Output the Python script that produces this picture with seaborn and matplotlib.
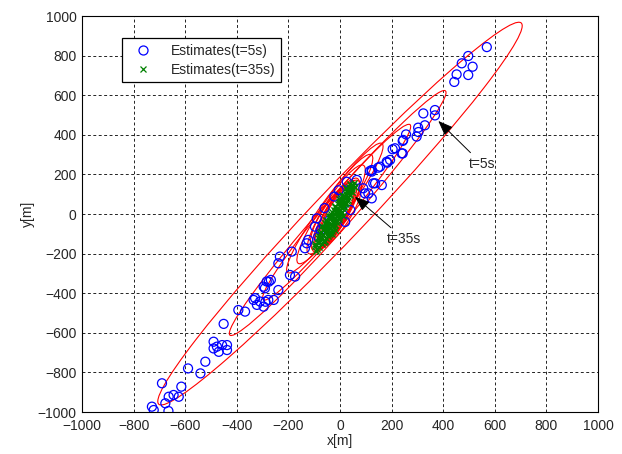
import numpy as np
import pandas as pd
import matplotlib
matplotlib.use("Agg")
import matplotlib.pyplot as plt
import seaborn as sns
from matplotlib.patches import Ellipse
from matplotlib.lines import Line2D

# ---------------- data ----------------
blue_x = [569, 497, 472, 514, 497, 452, 443, 368, 323, 368, 329, 303, 304, 256, 297, 243, 204, 243,
          183, 148, 116, 245, 213, 239, 194, 155, 181, 123, 136, 162, 110, 90, 123, 65, 26, 129, 97, 123,
          -22, 10, -60, -40, 40, -75, 20, -5,
          -90, -97, -123, -136, -187, -233, -239, -194, -174, -284, -268, -291, -239, -329, -310, -278,
          -394, -368, -129, -84, -296, -276, -289, -257, -335, -322, -296, -451, -490, -477, -457, -438,
          -490, -470, -438, -522, -589, -541, -615, -690, -664, -645, -625, -677, -729, -722, -665]
blue_y = [843, 798, 761, 744, 702, 705, 667, 525, 508, 498, 448, 436, 414, 402, 391, 369, 327, 306,
          259, 234, 217, 374, 332, 306, 273, 239, 264, 214, 155, 146, 104, 130, 79, 172, 163, 155, 104, 222,
          88, 60, 30, -30, 20, -80, -40, 120,
          -22, -64, -131, -173, -190, -215, -249, -308, -316, -341, -333, -375, -384, -425, -442, -434,
          -485, -493, -148, -115, -367, -342, -443, -434, -434, -459, -468, -555, -645, -670, -662, -662,
          -679, -696, -687, -746, -780, -805, -872, -855, -923, -914, -923, -956, -973, -990, -995]

green_x = [-88, -80, -95, -70, -85, -62, -78, -55, -72, -48, -65, -80, -40, -58, -30, -66, -45, -52,
           -25, -45, -18, -55, -35, -28, -60, -15, -30, -5, -42, -20, -35, -10, -2, -20, 5, -30, -10,
           -25, 0, 12, 8, -12, 15, -20, 2, -8, 18, 20, 0, 28, 10, -5, 22, 30, 15, 38, 22, 8, 40, 28, 48,
           35, 50, 40, 55, -50, -38, -22, -12, -3, 6, 14, 25, -68, -42, -32, -8, 4, -15, 30, -58, -20,
           -98, -86, -74, -60, -50, -36, -24, -44, -12, 0, 10, 18, 26, 36, 44, -70, -56, -34, -18, -2,
           -40, -6, 24, 32, -76, -64, -50, -28, -16, 6, 14, 34, 46, 58, -92, -83, -30, -52, 20, 2]
green_y = [-175, -168, -160, -150, -145, -140, -132, -122, -118, -112, -105, -110, -95, -90, -85, -82,
           -78, -70, -65, -62, -55, -52, -48, -40, -45, -35, -30, -25, -22, -18, -10, -12, -5, 0, 5, 8,
           12, 18, 20, -8, 28, 30, 35, 40, 42, 50, 48, 58, 62, 65, 72, 75, 80, 88, 92, 95, 102, 98, 118,
           122, 128, 135, 148, 152, 158, -100, -72, -48, -28, -15, 10, 38, 55, -128, -102, -58, 25, 68,
           -38, 110, -135, -80,
           -150, -120, -92, -66, -40, -20, 0, -10, 22, 45, 70, 90, 110, 115, 140, -60, -30, -2, 36, 60,
           -70, 5, 130, 70, -95, -75, -55, -40, 8, 32, 55, 105, 110, 138, -185, -140, -100, -88, 60, 80]

# covariance-region outlines (centre, semi-axes, orientation in data units)
ell_cx = [0, -9, -13, -20, -20, -15, -17, -18, -20, -15, -12, -16]
ell_cy = [2, 5, 9, 30, 25, 23, -5, -8, -10, -5, 0, -6]
ell_a = [1192, 745, 526, 374, 309, 247, 203, 185, 170, 160, 140, 195]
ell_b = [110, 64, 54, 52, 50, 48, 46, 44, 42, 40, 38, 56]
ell_ang = [54, 56, 57.4, 61, 63, 65, 66, 67, 67, 68, 68, 64]

ticks = list(range(-1000, 1001, 200))

# ---------------- style ----------------
sns.set_style("white")
plt.rcParams["font.family"] = ["Liberation Sans", "DejaVu Sans"]

fig = plt.figure(figsize=(6.22, 4.54), dpi=100)
fig.patch.set_facecolor("white")
ax = fig.add_axes([82 / 622, 42 / 454, 516 / 622, 396 / 454])

for cx, cy, a, b, ang in zip(ell_cx, ell_cy, ell_a, ell_b, ell_ang):
    ax.add_patch(Ellipse((cx, cy), 2 * a, 2 * b, angle=ang, fill=False,
                         edgecolor="red", linewidth=0.8, zorder=3))

blue = pd.DataFrame({"x": blue_x, "y": blue_y})
green = pd.DataFrame({"x": green_x, "y": green_y})

sns.scatterplot(data=blue, x="x", y="y", ax=ax, marker="o", s=42,
                facecolor="none", edgecolor="blue", linewidth=0.9, zorder=4, legend=False)
sns.scatterplot(data=green, x="x", y="y", ax=ax, marker="x", s=20,
                color="#008000", linewidth=1.0, zorder=5, legend=False)

ax.set_xlim(-1000, 1000)
ax.set_ylim(-1000, 1000)
ax.set_xticks(ticks)
ax.set_yticks(ticks)
ax.grid(True, color="black", linestyle=(0, (3.5, 3)), linewidth=0.6)
ax.set_axisbelow(True)
for sp in ax.spines.values():
    sp.set_color("black")
    sp.set_linewidth(0.8)
ax.tick_params(direction="in", length=4, color="black", labelsize=10)
ax.tick_params(axis="x", pad=5)
ax.tick_params(axis="y", pad=4)
ax.set_xlabel("x[m]", fontsize=10, labelpad=1)
ax.set_ylabel("y[m]", fontsize=10, labelpad=2)

handles = [
    Line2D([], [], marker="o", linestyle="none", markerfacecolor="none",
           markeredgecolor="blue", markersize=6.5, markeredgewidth=0.9),
    Line2D([], [], marker="x", linestyle="none", color="#008000",
           markersize=4, markeredgewidth=0.9),
]
leg = ax.legend(handles, ["Estimates(t=5s)", "Estimates(t=35s)"],
                loc="upper left", bbox_to_anchor=(0.0775, 0.944), fontsize=10,
                frameon=True, fancybox=False, framealpha=1, edgecolor="black",
                handlelength=2.2, handletextpad=0.9, borderpad=0.4, labelspacing=0.35,
                borderaxespad=0)
leg.get_frame().set_linewidth(0.9)

arrow = dict(arrowstyle="-|>,head_length=0.9,head_width=0.35", color="black",
             lw=0.7, mutation_scale=10, shrinkA=1, shrinkB=0)
ax.annotate("t=5s", xy=(381, 470), xytext=(550, 253), ha="center", va="center",
            fontsize=10, arrowprops=arrow, zorder=6)
ax.annotate("t=35s", xy=(58, 87), xytext=(248, -126), ha="center", va="center",
            fontsize=10, arrowprops=arrow, zorder=6)

fig.savefig("out.png", dpi=100, facecolor="white")
